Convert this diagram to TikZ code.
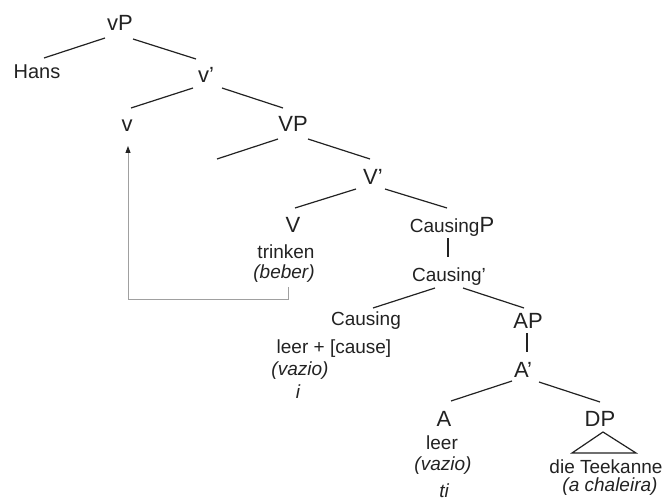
\documentclass[tikz,border=0pt]{standalone}
\usepackage{fontspec}
\setmainfont{Liberation Sans}
\usetikzlibrary{arrows.meta}
\definecolor{inkgray}{HTML}{222222}
\definecolor{movegray}{HTML}{A0A0A0}
\tikzset{
  cat/.style={anchor=base, inner sep=0pt, text=inkgray, font=\fontsize{22}{26}\selectfont},
  word/.style={anchor=base, inner sep=0pt, text=inkgray, font=\fontsize{19}{23}\selectfont},
  gloss/.style={word, font=\fontsize{19}{23}\selectfont\itshape},
  branch/.style={draw=inkgray, line width=1.2pt},
  move/.style={draw=movegray, line width=0.9pt, -{Triangle[length=7pt, width=5pt, color=inkgray]}}
}

\begin{document}
\begin{tikzpicture}[x=1pt, y=-1pt]
  \useasboundingbox (0,0) rectangle (667,500);

  % upper shell: vP and v'
  \node[cat] (vP) at (120,31) {vP};
  \node[word, font=\fontsize{20}{24}\selectfont] (Hans) at (37,79) {Hans};
  \node[cat] (vbar) at (206,83) {v'};
  \node[cat] (v) at (127,132) {v};
  \node[cat] (VP) at (293,132) {VP};
  \coordinate (VPspec) at (217,159);

  % lexical verb
  \node[cat] (Vbar) at (373,185) {V'};
  \node[cat] (V) at (293,232) {V};
  \node[word] (trinken) at (286,258) {trinken};
  \node[gloss] (beber) at (284,278) {(beber)};

  % causing head
  \node[cat] (CausingP) at (452,232) {{\fontsize{19}{23}\selectfont Causing}P};
  \node[word] (Causingbar) at (449,281) {Causing'};
  \node[word] (Causing) at (366,325) {Causing};
  \node[word] (leercause) at (334,353) {leer + [cause]};
  \node[gloss] (vazioC) at (300,375) {(vazio)};
  \node[gloss] (idx) at (298,398) {i};

  % small clause AP
  \node[cat] (AP) at (528,328) {AP};
  \node[cat] (Abar) at (523,377) {A'};
  \node[cat] (A) at (444,426) {A};
  \node[cat] (DP) at (600,426) {DP};
  \node[word] (leer) at (442,449) {leer};
  \node[gloss] (vazioA) at (443,470) {(vazio)};
  \node[gloss] (trace) at (444,497) {ti};
  \node[word] (teekanne) at (606,473) {die Teekanne};
  \node[gloss] (chaleira) at (610,491) {(a chaleira)};

  % branches
  \draw[branch] ([shift={(-15,7)}]vP.base) -- ([shift={(7,-21)}]Hans.base);
  \draw[branch] ([shift={(13,8)}]vP.base) -- ([shift={(-10,-24)}]vbar.base);
  \draw[branch] ([shift={(-13,5)}]vbar.base) -- ([shift={(4,-24)}]v.base);
  \draw[branch] ([shift={(16,5)}]vbar.base) -- ([shift={(-10,-24)}]VP.base);
  \draw[branch] ([shift={(-15,7)}]VP.base) -- (VPspec);
  \draw[branch] ([shift={(15,7)}]VP.base) -- ([shift={(-3,-26)}]Vbar.base);
  \draw[branch] ([shift={(-17,4)}]Vbar.base) -- ([shift={(2,-24)}]V.base);
  \draw[branch] ([shift={(12,4)}]Vbar.base) -- ([shift={(-5,-24)}]CausingP.base);
  \draw[branch] ([shift={(-4,6)}]CausingP.base) -- ([shift={(-1,-24)}]Causingbar.base);
  \draw[branch] ([shift={(-14,7)}]Causingbar.base) -- ([shift={(7,-17)}]Causing.base);
  \draw[branch] ([shift={(14,7)}]Causingbar.base) -- ([shift={(-4,-20)}]AP.base);
  \draw[branch] ([shift={(-1,5)}]AP.base) -- ([shift={(4,-25)}]Abar.base);
  \draw[branch] ([shift={(-11,4)}]Abar.base) -- ([shift={(7,-25)}]A.base);
  \draw[branch] ([shift={(16,5)}]Abar.base) -- ([shift={(0,-24)}]DP.base);
  \draw[branch, line join=miter] ([shift={(3,6)}]DP.base) -- ++(-31,21) -- ++(64,0) -- cycle;

  % head movement of the verb
  \draw[move] ([shift={(4,9)}]beber.base) -- ++(0,12) -| ([shift={(1,14)}]v.base);
\end{tikzpicture}
\end{document}
